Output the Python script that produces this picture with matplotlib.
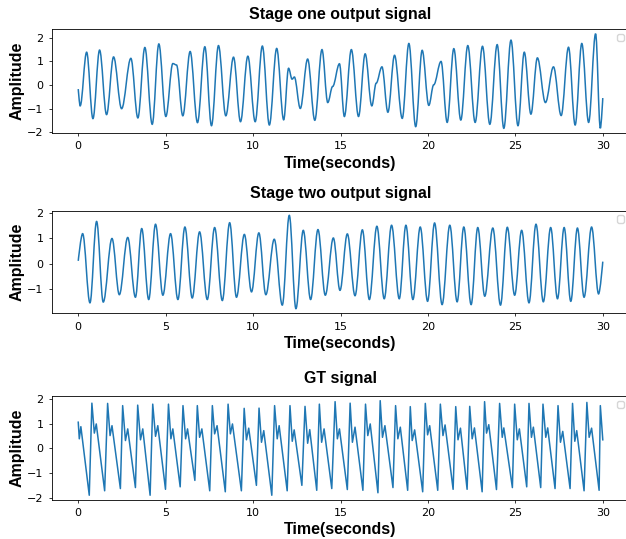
import matplotlib
matplotlib.use("Agg")
import matplotlib.pyplot as plt
from matplotlib.path import Path
from matplotlib.patches import PathPatch
from matplotlib.ticker import MultipleLocator

# peaks / troughs (time in s, amplitude)
stage1_t = [0.0, 0.11, 0.48, 0.84, 1.22, 1.62, 2.02, 2.48, 3.01, 3.41, 3.81, 4.23,
            4.61, 5.01, 5.41, 5.62, 5.98, 6.40, 6.82, 7.24, 7.62, 8.02, 8.44, 8.88,
            9.28, 9.70, 10.12, 10.53, 10.93, 11.35, 11.75, 12.03, 12.23, 12.36, 12.70,
            13.12, 13.53, 13.94, 14.27, 14.55, 14.94, 15.22, 15.62, 16.03, 16.41, 16.79,
            17.04, 17.37, 17.71, 18.09, 18.53, 18.91, 19.30, 19.67, 20.05, 20.33, 20.75,
            21.10, 21.48, 21.88, 22.28, 22.70, 23.12, 23.54, 23.96, 24.34, 24.75, 25.15,
            25.51, 25.89, 26.26, 26.72, 27.18, 27.62, 28.04, 28.42, 28.80, 29.19, 29.59,
            29.86, 30.0]
stage1_y = [-0.17, -0.88, 1.39, -1.42, 1.48, -1.25, 1.19, -1.0, 1.13, -1.39, 1.59, -1.66,
            1.74, -1.33, 0.91, 0.85, -1.30, 1.42, -1.59, 1.62, -1.72, 1.67, -1.30, 1.18,
            -1.55, 1.22, -1.55, 1.65, -1.69, 1.55, -1.47, 0.71, 0.25, 0.34, -0.99,
            1.10, -1.49, 1.50, -0.74, -0.06, 0.90, -1.33, 1.50, -1.33, 1.32, -0.88,
            0.08, 0.77, -1.15, 1.26, -1.41, 1.76, -1.76, 1.47, -0.86, 0.01, 1.00,
            -1.58, 1.54, -1.48, 1.67, -1.58, 1.64, -1.66, 1.71, -1.83, 1.90, -1.72,
            1.39, -1.23, 1.15, -0.74, 0.77, -1.29, 1.60, -1.69, 1.76, -1.58, 2.17,
            -1.83, -0.55]

stage2_t = [0.0, 0.25, 0.67, 1.05, 1.43, 1.93, 2.35, 2.83, 3.27, 3.63, 4.03, 4.42, 4.84,
            5.28, 5.70, 6.10, 6.52, 6.94, 7.38, 7.80, 8.24, 8.66, 9.05, 9.50, 9.91,
            10.33, 10.73, 11.21, 11.67, 12.07, 12.45, 12.87, 13.29, 13.71, 14.13, 14.59,
            14.97, 15.39, 15.83, 16.25, 16.65, 17.08, 17.50, 17.92, 18.36, 18.74, 19.14,
            19.56, 19.98, 20.38, 20.81, 21.25, 21.67, 22.05, 22.47, 22.85, 23.25, 23.71,
            24.15, 24.54, 24.96, 25.36, 25.78, 26.18, 26.60, 27.02, 27.41, 27.79, 28.17,
            28.55, 28.93, 29.36, 29.76, 30.0]
stage2_y = [0.12, 1.19, -1.53, 1.67, -1.50, 1.00, -1.21, 1.04, -1.31, 1.39, -1.40, 1.56, -1.23,
            1.19, -1.40, 1.45, -1.34, 1.26, -1.40, 1.43, -1.44, 1.62, -1.31, 1.16, -1.10,
            1.22, -1.21, 0.97, -1.62, 1.91, -1.76, 1.32, -1.40, 1.35, -1.23, 1.02,
            -1.04, 1.18, -1.25, 1.34, -1.40, 1.48, -1.37, 1.52, -1.37, 1.52, -1.40,
            1.45, -1.47, 1.61, -1.60, 1.52, -1.49, 1.45, -1.60, 1.43, -1.27, 1.41,
            -1.62, 1.44, -1.23, 1.32, -1.53, 1.56, -1.49, 1.43, -1.37, 1.43, -1.47,
            1.41, -1.31, 1.45, -1.18, 0.09]

# GT: trough, systolic peak, notch, diastolic bump per beat
gt_t = [0.0, 0.06, 0.15, 0.63, 0.78, 0.92, 1.03, 1.51, 1.68, 1.82, 1.93, 2.41, 2.54, 2.70,
        2.83, 3.27, 3.40, 3.56, 3.69, 4.11, 4.26, 4.42, 4.55, 4.99, 5.16, 5.30, 5.41,
        5.83, 5.99, 6.14, 6.25, 6.67, 6.81, 6.94, 7.07, 7.52, 7.67, 7.80, 7.94, 8.41,
        8.57, 8.70, 8.82, 9.33, 9.49, 9.62, 9.75, 10.19, 10.34, 10.48, 10.61, 11.07,
        11.23, 11.38, 11.49, 11.95, 12.11, 12.24, 12.35, 12.79, 12.97, 13.12, 13.24,
        13.64, 13.79, 13.92, 14.06, 14.50, 14.69, 14.82, 14.94, 15.39, 15.55, 15.68,
        15.83, 16.28, 16.43, 16.56, 16.70, 17.14, 17.27, 17.40, 17.54, 18.00, 18.15,
        18.28, 18.42, 18.84, 18.99, 19.10, 19.24, 19.70, 19.85, 19.98, 20.10, 20.56,
        20.71, 20.86, 20.98, 21.44, 21.59, 21.72, 21.86, 22.24, 22.39, 22.53, 22.66,
        23.10, 23.24, 23.35, 23.48, 23.92, 24.10, 24.25, 24.34, 24.83, 24.96, 25.11,
        25.23, 25.65, 25.78, 25.92, 26.03, 26.45, 26.58, 26.74, 26.85, 27.27, 27.44,
        27.58, 27.71, 28.13, 28.27, 28.40, 28.51, 28.93, 29.09, 29.22, 29.36, 29.79,
        29.86, 30.0]
gt_y = [1.06, 0.39, 0.88, -1.89, 1.83, 0.62, 0.99, -1.71, 1.82, 0.52, 0.92, -1.62, 1.73, 0.32,
        0.79, -1.58, 1.75, 0.35, 0.79, -1.89, 1.79, 0.49, 0.92, -1.65, 1.79, 0.39, 0.79,
        -1.55, 1.73, 0.39, 0.79, -1.29, 1.73, 0.45, 0.79, -1.71, 1.73, 0.59, 0.92, -1.75,
        1.79, 0.59, 0.99, -1.71, 1.62, 0.35, 0.82, -1.49, 1.63, 0.25, 0.72, -1.89,
        1.73, 0.39, 0.92, -1.71, 1.73, 0.29, 0.75, -1.49, 1.70, 0.21, 0.76,
        -1.69, 1.79, 0.25, 0.79, -1.62, 1.89, 0.39, 0.79, -1.66, 1.83, 0.25,
        0.86, -1.69, 1.79, 0.52, 0.99, -1.79, 1.93, 0.45, 0.92, -1.58, 1.73,
        0.39, 0.86, -1.69, 1.69, 0.32, 0.75, -1.75, 1.82, 0.55, 0.92, -1.69,
        1.79, 0.52, 0.95, -1.65, 1.69, 0.35, 0.82, -1.65, 1.70, 0.39, 0.83,
        -1.75, 1.89, 0.62, 0.96, -1.66, 1.82, 0.45, 0.83, -1.58, 1.79, 0.35,
        0.79, -1.55, 1.82, 0.45, 0.86, -1.58, 1.79, 0.45, 0.83, -1.62, 1.73,
        0.25, 0.69, -1.62, 1.82, 0.29, 0.72, -1.71, 1.86, 0.45, 0.82, -1.69,
        1.73, 0.35]

titles = ["Stage one output signal", "Stage two output signal", "GT signal"]
title_pads = [7.5, 9.5, 9.5]
color = "#1f77b4"


def smooth_path(t, y, k=0.36):
    # cubic bezier between extrema, flat tangent at each extremum
    verts = [(t[0], y[0])]
    codes = [Path.MOVETO]
    n = len(t)
    for i in range(n - 1):
        dt = t[i + 1] - t[i]
        c1 = (t[i], y[i]) if i == 0 else (t[i] + k * dt, y[i])
        c2 = (t[i + 1], y[i + 1]) if i == n - 2 else (t[i + 1] - k * dt, y[i + 1])
        verts += [c1, c2, (t[i + 1], y[i + 1])]
        codes += [Path.CURVE4] * 3
    return Path(verts, codes)


fig = plt.figure(figsize=(6.26, 5.39), dpi=100)
boxes = [(0.0831, 0.7532, 0.9217, 0.1929),
         (0.0831, 0.4187, 0.9217, 0.1904),
         (0.0831, 0.0724, 0.9217, 0.1930)]
axes = [fig.add_axes(b) for b in boxes]

axes[0].add_patch(PathPatch(smooth_path(stage1_t, stage1_y), fill=False,
                            edgecolor=color, lw=1.1))
axes[1].add_patch(PathPatch(smooth_path(stage2_t, stage2_y), fill=False,
                            edgecolor=color, lw=1.1))
axes[2].plot(gt_t, gt_y, color=color, lw=1.1)

lab = dict(family="Liberation Sans", weight="bold", size=11.5)
for ax, title, tp in zip(axes, titles, title_pads):
    ax.autoscale_view()
    ax.yaxis.set_major_locator(MultipleLocator(1))
    ax.xaxis.set_major_locator(MultipleLocator(5))
    ax.set_title(title, pad=tp, **lab)
    ax.set_xlabel("Time(seconds)", labelpad=3, **lab)
    ax.set_ylabel("Amplitude", labelpad=2, **lab)
    ax.tick_params(labelsize=8, length=2.5, width=0.55, pad=3.5)
    for sp in ax.spines.values():
        sp.set_linewidth(0.6)
    ax.legend(fontsize=6.8)

fig.savefig("out.png", dpi=100)
